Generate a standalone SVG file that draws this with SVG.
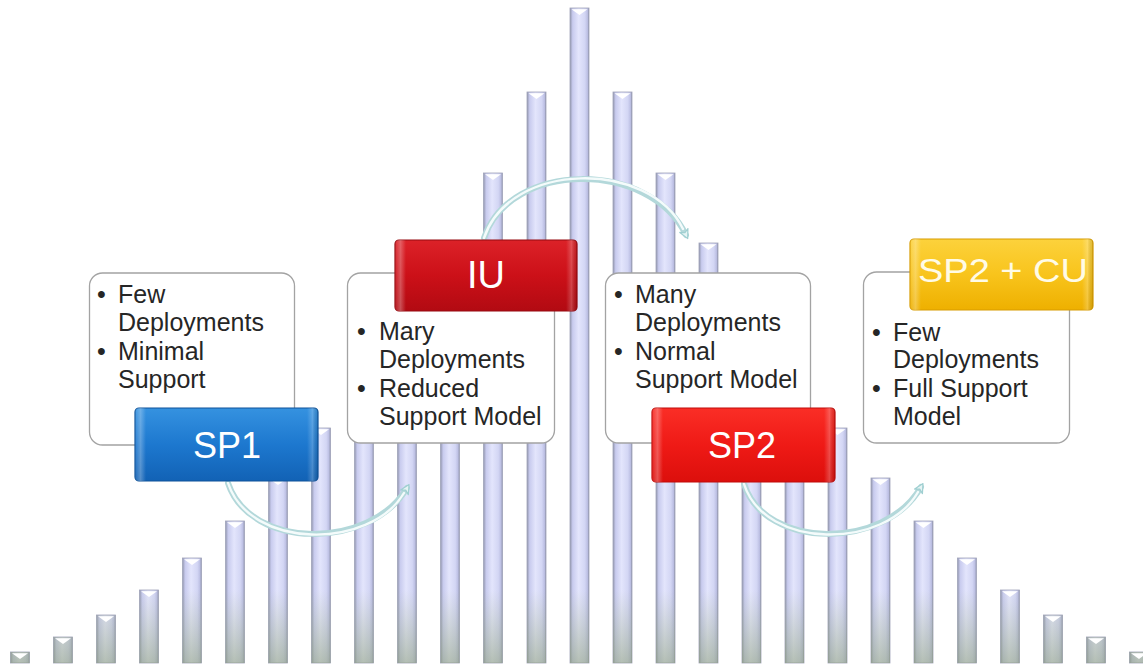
<svg xmlns="http://www.w3.org/2000/svg" xmlns:xlink="http://www.w3.org/1999/xlink" width="1143" height="665" viewBox="0 0 1143 665">
  <defs>
    <style>
      .bar { fill: url(#barBody); stroke: #a0a4ba; stroke-width: 0.8; }
      .foot { fill: url(#barFoot); }
      .desc { fill: #ffffff; stroke: #a3a3a3; stroke-width: 1.3; }
      .item { font-family: "Liberation Sans", Arial, sans-serif; font-size: 25px; fill: #262626; }
      .title { font-family: "Liberation Sans", Arial, sans-serif; font-size: 36px; fill: #ffffff; text-anchor: middle; }
      .gloss { fill: url(#edgeGloss); }
      .tube { fill: none; stroke: #b3d8da; stroke-width: 6; stroke-linecap: round; }
      .tubeCore { fill: none; stroke: #f4fbfb; stroke-width: 2.4; stroke-linecap: round; }
    </style>
    <!-- bar shading: soft rims, pale lavender body -->
    <linearGradient id="barBody" x1="0" y1="0" x2="1" y2="0">
      <stop offset="0" stop-color="#9296ae"/>
      <stop offset="0.14" stop-color="#c8cbee"/>
      <stop offset="0.45" stop-color="#e3e5fc"/>
      <stop offset="0.78" stop-color="#d3d6f4"/>
      <stop offset="0.92" stop-color="#bcbfe3"/>
      <stop offset="1" stop-color="#8d92a8"/>
    </linearGradient>
    <!-- greenish tint near the ground line -->
    <linearGradient id="barFoot" gradientUnits="userSpaceOnUse" x1="0" y1="590" x2="0" y2="663">
      <stop offset="0" stop-color="#a3b48e" stop-opacity="0"/>
      <stop offset="1" stop-color="#8ea07a" stop-opacity="0.55"/>
    </linearGradient>
    <path id="cap" d="M-8,1.2 L0,7 L8,1.2 Z" fill="#ffffff"/>

    <!-- glossy label fills -->
    <linearGradient id="blueFill" x1="0" y1="0" x2="0" y2="1">
      <stop offset="0" stop-color="#3592e0"/>
      <stop offset="0.5" stop-color="#1d78cf"/>
      <stop offset="1" stop-color="#1262b5"/>
    </linearGradient>
    <linearGradient id="darkRedFill" x1="0" y1="0" x2="0" y2="1">
      <stop offset="0" stop-color="#dc2228"/>
      <stop offset="0.5" stop-color="#cc1018"/>
      <stop offset="1" stop-color="#b20a12"/>
    </linearGradient>
    <linearGradient id="redFill" x1="0" y1="0" x2="0" y2="1">
      <stop offset="0" stop-color="#fa2e26"/>
      <stop offset="0.5" stop-color="#ef1a16"/>
      <stop offset="1" stop-color="#dc0f0c"/>
    </linearGradient>
    <linearGradient id="goldFill" x1="0" y1="0" x2="0" y2="1">
      <stop offset="0" stop-color="#fcd23c"/>
      <stop offset="0.5" stop-color="#f8c41c"/>
      <stop offset="1" stop-color="#eeb000"/>
    </linearGradient>
    <linearGradient id="edgeGloss" x1="0" y1="0" x2="1" y2="0">
      <stop offset="0" stop-color="#ffffff" stop-opacity="0.05"/>
      <stop offset="0.03" stop-color="#ffffff" stop-opacity="0.28"/>
      <stop offset="0.06" stop-color="#ffffff" stop-opacity="0"/>
      <stop offset="0.94" stop-color="#ffffff" stop-opacity="0"/>
      <stop offset="0.97" stop-color="#ffffff" stop-opacity="0.22"/>
      <stop offset="1" stop-color="#000000" stop-opacity="0.1"/>
    </linearGradient>

    <marker id="head" viewBox="0 0 12 12" refX="6" refY="6" markerWidth="12" markerHeight="12" markerUnits="userSpaceOnUse" orient="auto">
      <path d="M1,1.5 L10,6 L1,10.5 L3.5,6 Z" fill="#e6f4f4" stroke="#9fcfd1" stroke-width="1.2" stroke-linejoin="round"/>
    </marker>
  </defs>

  <rect width="1143" height="665" fill="#ffffff"/>

  <!-- bell-shaped column chart -->
  <g id="bars">
    <rect class="bar" x="10.5" y="652" width="19" height="11"/><rect class="foot" x="10.5" y="652" width="19" height="11"/><use href="#cap" x="20" y="652"/>
    <rect class="bar" x="53.5" y="637" width="19" height="26"/><rect class="foot" x="53.5" y="637" width="19" height="26"/><use href="#cap" x="63" y="637"/>
    <rect class="bar" x="96.5" y="615" width="19" height="48"/><rect class="foot" x="96.5" y="615" width="19" height="48"/><use href="#cap" x="106" y="615"/>
    <rect class="bar" x="139.5" y="590" width="19" height="73"/><rect class="foot" x="139.5" y="590" width="19" height="73"/><use href="#cap" x="149" y="590"/>
    <rect class="bar" x="182.5" y="558" width="19" height="105"/><rect class="foot" x="182.5" y="558" width="19" height="105"/><use href="#cap" x="192" y="558"/>
    <rect class="bar" x="225.5" y="521" width="19" height="142"/><rect class="foot" x="225.5" y="521" width="19" height="142"/><use href="#cap" x="235" y="521"/>
    <rect class="bar" x="268.5" y="478" width="19" height="185"/><rect class="foot" x="268.5" y="478" width="19" height="185"/><use href="#cap" x="278" y="478"/>
    <rect class="bar" x="311.5" y="428" width="19" height="235"/><rect class="foot" x="311.5" y="428" width="19" height="235"/><use href="#cap" x="321" y="428"/>
    <rect class="bar" x="354.5" y="373" width="19" height="290"/><rect class="foot" x="354.5" y="373" width="19" height="290"/><use href="#cap" x="364" y="373"/>
    <rect class="bar" x="397.5" y="311" width="19" height="352"/><rect class="foot" x="397.5" y="311" width="19" height="352"/><use href="#cap" x="407" y="311"/>
    <rect class="bar" x="440.5" y="243" width="19" height="420"/><rect class="foot" x="440.5" y="243" width="19" height="420"/><use href="#cap" x="450" y="243"/>
    <rect class="bar" x="483.5" y="173" width="19" height="490"/><rect class="foot" x="483.5" y="173" width="19" height="490"/><use href="#cap" x="493" y="173"/>
    <rect class="bar" x="527" y="92" width="19" height="571"/><rect class="foot" x="527" y="92" width="19" height="571"/><use href="#cap" x="536.5" y="92"/>
    <rect class="bar" x="570" y="8" width="19" height="655"/><rect class="foot" x="570" y="8" width="19" height="655"/><use href="#cap" x="579.5" y="8"/>
    <rect class="bar" x="613" y="92" width="19" height="571"/><rect class="foot" x="613" y="92" width="19" height="571"/><use href="#cap" x="622.5" y="92"/>
    <rect class="bar" x="656" y="173" width="19" height="490"/><rect class="foot" x="656" y="173" width="19" height="490"/><use href="#cap" x="665.5" y="173"/>
    <rect class="bar" x="699" y="243" width="19" height="420"/><rect class="foot" x="699" y="243" width="19" height="420"/><use href="#cap" x="708.5" y="243"/>
    <rect class="bar" x="742" y="311" width="19" height="352"/><rect class="foot" x="742" y="311" width="19" height="352"/><use href="#cap" x="751.5" y="311"/>
    <rect class="bar" x="785" y="373" width="19" height="290"/><rect class="foot" x="785" y="373" width="19" height="290"/><use href="#cap" x="794.5" y="373"/>
    <rect class="bar" x="828" y="428" width="19" height="235"/><rect class="foot" x="828" y="428" width="19" height="235"/><use href="#cap" x="837.5" y="428"/>
    <rect class="bar" x="871" y="478" width="19" height="185"/><rect class="foot" x="871" y="478" width="19" height="185"/><use href="#cap" x="880.5" y="478"/>
    <rect class="bar" x="914" y="521" width="19" height="142"/><rect class="foot" x="914" y="521" width="19" height="142"/><use href="#cap" x="923.5" y="521"/>
    <rect class="bar" x="957.5" y="558" width="19" height="105"/><rect class="foot" x="957.5" y="558" width="19" height="105"/><use href="#cap" x="967" y="558"/>
    <rect class="bar" x="1000.5" y="590" width="19" height="73"/><rect class="foot" x="1000.5" y="590" width="19" height="73"/><use href="#cap" x="1010" y="590"/>
    <rect class="bar" x="1043.5" y="615" width="19" height="48"/><rect class="foot" x="1043.5" y="615" width="19" height="48"/><use href="#cap" x="1053" y="615"/>
    <rect class="bar" x="1086.5" y="637" width="19" height="26"/><rect class="foot" x="1086.5" y="637" width="19" height="26"/><use href="#cap" x="1096" y="637"/>
    <rect class="bar" x="1129.5" y="652" width="19" height="11"/><rect class="foot" x="1129.5" y="652" width="19" height="11"/><use href="#cap" x="1139" y="652"/>
  </g>

  <!-- curved transition arrows -->
  <g id="connectors">
    <path class="tube" d="M228,483 C250,550 370,550 407,488" marker-end="url(#head)"/>
    <path class="tubeCore" d="M228,483 C250,550 370,550 404,493"/>
    <path class="tube" d="M484,238 C510,160 650,160 686,235" marker-end="url(#head)"/>
    <path class="tubeCore" d="M484,238 C510,160 650,160 683,229"/>
    <path class="tube" d="M744,484 C765,550 885,550 921,487" marker-end="url(#head)"/>
    <path class="tubeCore" d="M744,484 C765,550 885,550 918,492"/>
  </g>

  <g id="sp1">
    <rect class="desc" x="89.5" y="273" width="205" height="172" rx="13"/>
    <text class="item" x="97" y="303">•</text><text class="item" x="118" y="303">Few</text>
    <text class="item" x="118" y="331">Deployments</text>
    <text class="item" x="97" y="360">•</text><text class="item" x="118" y="360">Minimal</text>
    <text class="item" x="118" y="388">Support</text>
    <rect x="135" y="408" width="183" height="73" rx="4" fill="url(#blueFill)" stroke="#0f5399" stroke-width="1.2"/>
    <rect class="gloss" x="135" y="408" width="183" height="73" rx="4"/>
    <text class="title" x="227" y="458">SP1</text>
  </g>

  <g id="iu">
    <rect class="desc" x="347.5" y="273" width="207" height="170" rx="13"/>
    <text class="item" x="357" y="340">•</text><text class="item" x="379" y="340">Mary</text>
    <text class="item" x="379" y="368">Deployments</text>
    <text class="item" x="357" y="397">•</text><text class="item" x="379" y="397">Reduced</text>
    <text class="item" x="379" y="425">Support Model</text>
    <rect x="395" y="240" width="182" height="71" rx="4" fill="url(#darkRedFill)" stroke="#960a10" stroke-width="1.2"/>
    <rect class="gloss" x="395" y="240" width="182" height="71" rx="4"/>
    <text class="title" x="486" y="288" style="font-size:38px">IU</text>
  </g>

  <g id="sp2">
    <rect class="desc" x="605.5" y="273" width="205" height="170" rx="13"/>
    <text class="item" x="614" y="303">•</text><text class="item" x="635" y="303">Many</text>
    <text class="item" x="635" y="331">Deployments</text>
    <text class="item" x="614" y="360">•</text><text class="item" x="635" y="360">Normal</text>
    <text class="item" x="635" y="388">Support Model</text>
    <rect x="652" y="408" width="183" height="74" rx="4" fill="url(#redFill)" stroke="#c00c0a" stroke-width="1.2"/>
    <rect class="gloss" x="652" y="408" width="183" height="74" rx="4"/>
    <text class="title" x="742" y="458">SP2</text>
  </g>

  <g id="sp2cu">
    <rect class="desc" x="863.5" y="272" width="206" height="171" rx="13"/>
    <text class="item" x="872" y="341">•</text><text class="item" x="893" y="341">Few</text>
    <text class="item" x="893" y="368">Deployments</text>
    <text class="item" x="872" y="397">•</text><text class="item" x="893" y="397">Full Support</text>
    <text class="item" x="893" y="425">Model</text>
    <rect x="910" y="239" width="183" height="71" rx="4" fill="url(#goldFill)" stroke="#d79c00" stroke-width="1.2"/>
    <rect class="gloss" x="910" y="239" width="183" height="71" rx="4"/>
    <text class="title" x="1003" y="282" textLength="170" lengthAdjust="spacingAndGlyphs" style="font-size:34px;fill:#fffbe6">SP2 + CU</text>
  </g>
</svg>
